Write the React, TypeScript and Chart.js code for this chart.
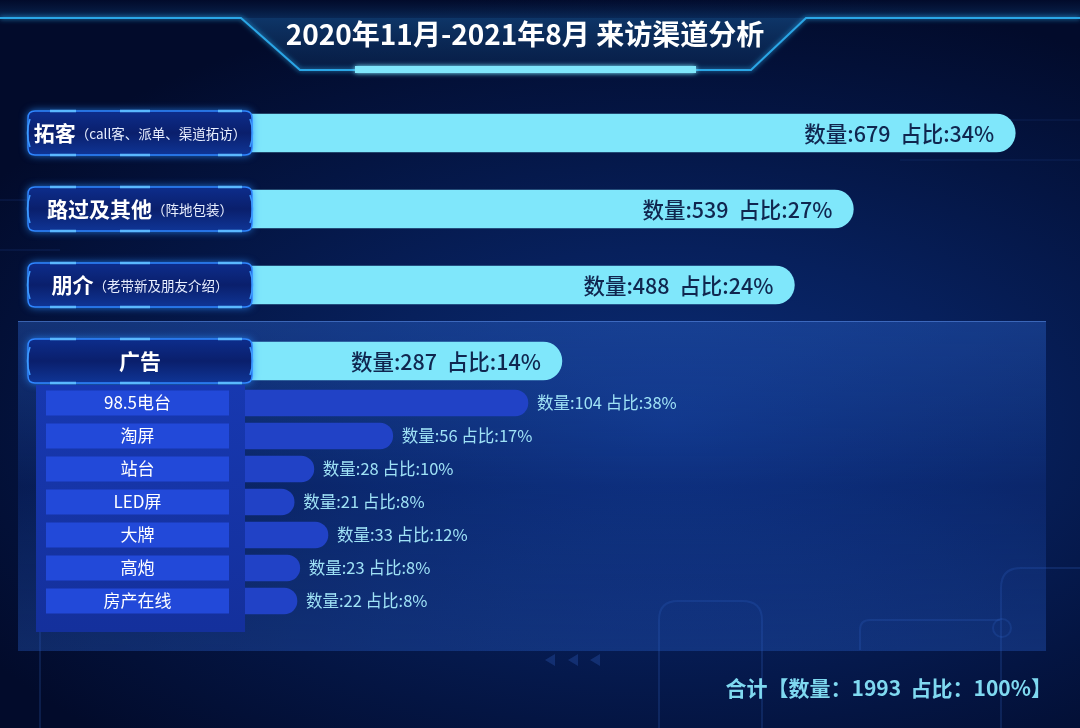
import React, { useEffect, useRef } from "react";
import { Chart, registerables } from "chart.js";

Chart.register(...registerables);

const TITLE = "2020年11月-2021年8月 来访渠道分析";
const mainCategories = ["拓客", "路过及其他", "朋介", "广告"];
const mainNotes = ["（call客、派单、渠道拓访）", "（阵地包装）", "（老带新及朋友介绍）", ""];
const mainValues = [679, 539, 488, 287];
const mainShares = [34, 27, 24, 14];
const adCategories = ["98.5电台", "淘屏", "站台", "LED屏", "大牌", "高炮", "房产在线"];
const adValues = [104, 56, 28, 21, 33, 23, 22];
const adShares = [38, 17, 10, 8, 12, 8, 8];
const totalCount = 1993;
const totalShare = 100;
const mainAxisMax = 735;
const adAxisMax = 300;

const FONT = '"Noto Sans CJK SC", "Noto Sans", sans-serif';

function roundRectPath(ctx: CanvasRenderingContext2D, x: number, y: number, w: number, h: number, r: number) {
  ctx.beginPath();
  ctx.moveTo(x + r, y);
  ctx.lineTo(x + w - r, y);
  ctx.quadraticCurveTo(x + w, y, x + w, y + r);
  ctx.lineTo(x + w, y + h - r);
  ctx.quadraticCurveTo(x + w, y + h, x + w - r, y + h);
  ctx.lineTo(x + r, y + h);
  ctx.quadraticCurveTo(x, y + h, x, y + h - r);
  ctx.lineTo(x, y + r);
  ctx.quadraticCurveTo(x, y, x + r, y);
  ctx.closePath();
}

function drawLabelBox(ctx: CanvasRenderingContext2D, x: number, y: number, w: number, h: number) {
  ctx.save();
  roundRectPath(ctx, x, y, w, h, 7);
  const g = ctx.createLinearGradient(0, y, 0, y + h);
  g.addColorStop(0, "#0d2d8c");
  g.addColorStop(0.5, "#0a1f6c");
  g.addColorStop(1, "#0f3596");
  ctx.shadowColor = "rgba(40,140,255,0.9)";
  ctx.shadowBlur = 8;
  ctx.fillStyle = g;
  ctx.fill();
  ctx.shadowBlur = 0;
  ctx.lineWidth = 1.5;
  ctx.strokeStyle = "#2f86ff";
  ctx.stroke();
  ctx.strokeStyle = "#5ab8ff";
  ctx.lineWidth = 2.5;
  const segs = [
    [x + 22, x + 48],
    [x + 92, x + 122],
    [x + 190, x + 214],
  ];
  segs.forEach(([a, b]) => {
    ctx.beginPath();
    ctx.moveTo(a, y);
    ctx.lineTo(b, y);
    ctx.moveTo(a, y + h);
    ctx.lineTo(b, y + h);
    ctx.stroke();
  });
  ctx.lineWidth = 1.5;
  ctx.strokeStyle = "#3d9bff";
  ctx.beginPath();
  ctx.moveTo(x + 2, y + 8);
  ctx.quadraticCurveTo(x - 3, y + h / 2, x + 2, y + h - 8);
  ctx.moveTo(x + w - 2, y + 8);
  ctx.quadraticCurveTo(x + w + 3, y + h / 2, x + w - 2, y + h - 8);
  ctx.stroke();
  ctx.restore();
}

function drawLabelText(ctx: CanvasRenderingContext2D, name: string, note: string, cx: number, cy: number) {
  ctx.save();
  ctx.textBaseline = "middle";
  ctx.textAlign = "left";
  const nameFont = `bold 21px ${FONT}`;
  const noteFont = `13.5px ${FONT}`;
  ctx.font = nameFont;
  const w1 = ctx.measureText(name).width;
  ctx.font = noteFont;
  const w2 = note ? ctx.measureText(note).width : 0;
  const start = cx - (w1 + w2) / 2;
  ctx.font = nameFont;
  ctx.fillStyle = "#ffffff";
  ctx.fillText(name, start, cy);
  if (note) {
    ctx.font = noteFont;
    ctx.fillStyle = "#e8efff";
    ctx.fillText(note, start + w1, cy + 1);
  }
  ctx.restore();
}

const mainPlugin = {
  id: "mainDecor",
  afterDatasetsDraw(chart: any) {
    const ctx: CanvasRenderingContext2D = chart.ctx;
    const meta = chart.getDatasetMeta(0);
    meta.data.forEach((bar: any, i: number) => {
      ctx.save();
      ctx.fillStyle = "#10264f";
      ctx.font = `500 21.5px ${FONT}`;
      ctx.textAlign = "right";
      ctx.textBaseline = "middle";
      ctx.fillText(`数量:${mainValues[i]}  占比:${mainShares[i]}%`, bar.x - 21, bar.y + 1);
      ctx.restore();
      drawLabelBox(ctx, 28, bar.y - 22, 224, 44);
      drawLabelText(ctx, mainCategories[i], mainNotes[i], 140, bar.y);
    });
  },
};

const adPlugin = {
  id: "adDecor",
  afterDatasetsDraw(chart: any) {
    const ctx: CanvasRenderingContext2D = chart.ctx;
    const meta = chart.getDatasetMeta(0);
    ctx.save();
    const pg = ctx.createLinearGradient(0, 5, 0, 252);
    pg.addColorStop(0, "#1738b0");
    pg.addColorStop(1, "#14309c");
    ctx.fillStyle = pg;
    ctx.fillRect(36, 5, 209, 247);
    meta.data.forEach((bar: any, i: number) => {
      ctx.fillStyle = "#2249d9";
      ctx.fillRect(46, bar.y - 12.5, 183, 25);
      ctx.fillStyle = "#ffffff";
      ctx.font = `17px ${FONT}`;
      ctx.textAlign = "center";
      ctx.textBaseline = "middle";
      ctx.fillText(adCategories[i], 137.5, bar.y);
      ctx.fillStyle = "#9fe2f6";
      ctx.textAlign = "left";
      ctx.font = `16.5px ${FONT}`;
      ctx.fillText(`数量:${adValues[i]} 占比:${adShares[i]}%`, bar.x + 9, bar.y);
    });
    ctx.restore();
  },
};

function MainChart() {
  const ref = useRef<HTMLCanvasElement>(null);
  useEffect(() => {
    if (!ref.current) return;
    const chart = new Chart(ref.current, {
      type: "bar",
      data: {
        labels: mainCategories,
        datasets: [
          {
            data: mainValues,
            backgroundColor: "#7fe7fb",
            barThickness: 38,
            borderRadius: 19,
            borderSkipped: "start",
          },
        ],
      },
      options: {
        indexAxis: "y",
        animation: false,
        responsive: false,
        layout: { padding: { left: 230, right: 0, top: 0, bottom: 0 } },
        scales: {
          x: { type: "linear", min: 0, max: mainAxisMax, display: false },
          y: { type: "category", display: false, offset: true },
        },
        plugins: { legend: { display: false }, tooltip: { enabled: false } },
      },
      plugins: [mainPlugin],
    } as any);
    return () => chart.destroy();
  }, []);
  return (
    <canvas
      ref={ref}
      width={1080}
      height={304}
      style={{ position: "absolute", left: 0, top: 95, width: 1080, height: 304 }}
    />
  );
}

function AdChart() {
  const ref = useRef<HTMLCanvasElement>(null);
  useEffect(() => {
    if (!ref.current) return;
    const chart = new Chart(ref.current, {
      type: "bar",
      data: {
        labels: adCategories,
        datasets: [
          {
            data: adValues,
            backgroundColor: "#2142c6",
            barThickness: 26,
            borderRadius: 13,
            borderSkipped: "start",
          },
        ],
      },
      options: {
        indexAxis: "y",
        animation: false,
        responsive: false,
        layout: { padding: { left: 235, right: 0, top: 6.5, bottom: 22.5 } },
        scales: {
          x: { type: "linear", min: 0, max: adAxisMax, display: false },
          y: { type: "category", display: false, offset: true },
        },
        plugins: { legend: { display: false }, tooltip: { enabled: false } },
      },
      plugins: [adPlugin],
    } as any);
    return () => chart.destroy();
  }, []);
  return (
    <canvas
      ref={ref}
      width={1080}
      height={260}
      style={{ position: "absolute", left: 0, top: 380, width: 1080, height: 260 }}
    />
  );
}

function Header() {
  return (
    <svg width={1080} height={100} style={{ position: "absolute", left: 0, top: 0 }}>
      <defs>
        <linearGradient id="trap" x1="0" y1="0" x2="0" y2="1">
          <stop offset="0" stopColor="#0f3a6e" stopOpacity="0.9" />
          <stop offset="1" stopColor="#0a2550" stopOpacity="0.6" />
        </linearGradient>
        <linearGradient id="topglow" x1="0" y1="0" x2="0" y2="1">
          <stop offset="0" stopColor="#0a2a55" stopOpacity="0.0" />
          <stop offset="1" stopColor="#0c3366" stopOpacity="0.7" />
        </linearGradient>
        <filter id="glow" x="-10%" y="-200%" width="120%" height="500%">
          <feGaussianBlur stdDeviation="2.5" result="b" />
          <feMerge>
            <feMergeNode in="b" />
            <feMergeNode in="SourceGraphic" />
          </feMerge>
        </filter>
      </defs>
      <rect x={0} y={0} width={1080} height={18} fill="url(#topglow)" />
      <polygon points="241,18 806,18 751,70 300,70" fill="url(#trap)" />
      <polyline
        points="0,18 241,18 300,70 751,70 806,18 1080,18"
        fill="none"
        stroke="#2aa6e6"
        strokeWidth={2}
        filter="url(#glow)"
      />
      <rect x={355} y={66} width={341} height={7} fill="#7fe6fb" filter="url(#glow)" />
    </svg>
  );
}

function Decorations() {
  const c = "rgba(70,130,240,0.16)";
  return (
    <svg width={1080} height={728} style={{ position: "absolute", left: 0, top: 0 }}>
      <path d="M40 728 L40 590 Q40 570 60 570 L200 570" stroke={c} strokeWidth={2} fill="none" />
      <path d="M659 728 L659 620 Q659 601 678 601 L742 601 Q762 601 762 620 L762 728" stroke={c} strokeWidth={2} fill="none" />
      <path d="M1001 728 L1001 588 Q1001 568 1021 568 L1080 568" stroke={c} strokeWidth={2} fill="none" />
      <path d="M860 650 L860 630 Q860 620 870 620 L1000 620" stroke={c} strokeWidth={2} fill="none" />
      <circle cx={1002} cy={628} r={9} stroke={c} strokeWidth={2} fill="none" />
      <path d="M545 660 l10 -6 l0 12 z M568 660 l10 -6 l0 12 z M590 660 l10 -6 l0 12 z" fill="rgba(60,110,220,0.25)" />
      <path d="M0 200 L120 200 M0 250 L60 250" stroke="rgba(60,110,220,0.1)" strokeWidth={2} />
      <path d="M870 120 L1080 120 M900 160 L1080 160" stroke="rgba(60,110,220,0.08)" strokeWidth={2} />
    </svg>
  );
}

export default function App() {
  return (
    <div
      style={{
        position: "fixed",
        left: 0,
        top: 0,
        width: 1080,
        height: 728,
        overflow: "hidden",
        fontFamily: FONT,
        background:
          "radial-gradient(ellipse 75% 60% at 62% 58%, #0b2d78 0%, #07205c 40%, #041543 70%, #020b2b 100%)",
      }}
    >
      <Decorations />
      <div
        style={{
          position: "absolute",
          left: 18,
          top: 321,
          width: 1028,
          height: 329,
          background:
            "linear-gradient(180deg, rgba(45,105,215,0.38) 0%, rgba(25,70,180,0.22) 50%, rgba(40,95,205,0.35) 100%)",
          borderTop: "1px solid rgba(110,165,255,0.45)",
        }}
      />
      <Header />
      <div
        style={{
          position: "absolute",
          left: 0,
          top: 14,
          width: 1050,
          textAlign: "center",
          color: "#ffffff",
          fontWeight: 700,
          fontSize: 28,
          lineHeight: "38px",
          whiteSpace: "pre",
        }}
      >
        {TITLE}
      </div>
      <MainChart />
      <AdChart />
      <div
        style={{
          position: "absolute",
          right: 28,
          top: 671,
          color: "#7fd9f0",
          fontWeight: 700,
          fontSize: 21,
          lineHeight: "32px",
          whiteSpace: "pre",
        }}
      >
        {`合计【数量：${totalCount}  占比：${totalShare}%】`}
      </div>
    </div>
  );
}
